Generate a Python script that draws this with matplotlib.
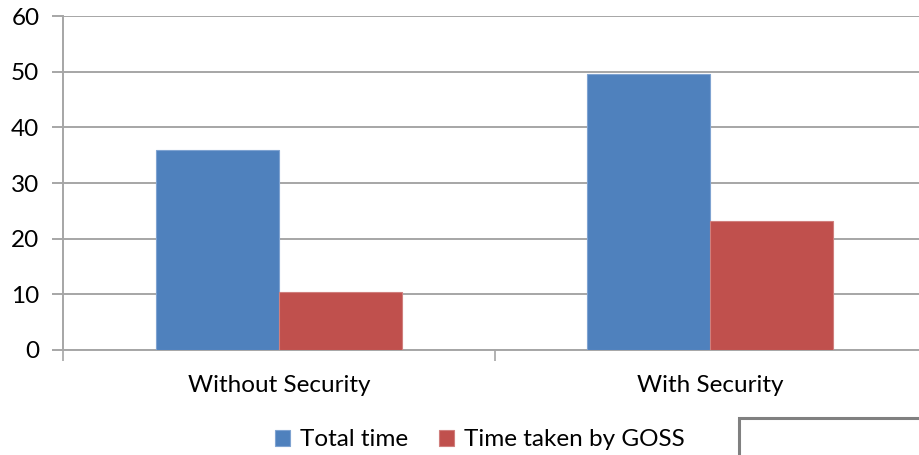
import numpy as np
import matplotlib
matplotlib.use("Agg")
import matplotlib.pyplot as plt
from matplotlib.patches import Rectangle

categories = ["Without Security", "With Security"]
total_time = [36.0, 49.5]
goss_time = [10.4, 23.2]
series_names = ["Total time", "Time taken by GOSS"]
y_ticks = [0, 10, 20, 30, 40, 50, 60]

plt.rcParams["font.family"] = ["Lato", "DejaVu Sans"]

fig = plt.figure(figsize=(9.19, 4.55), dpi=100)
ax = fig.add_axes([63 / 919, 105 / 455, 856 / 919, 334 / 455])

x = np.arange(len(categories))
w = 0.285
ax.bar(x - w / 2, total_time, w, color="#4f81bd", edgecolor="#7fa3d1", linewidth=0.8,
       label=series_names[0], zorder=3)
ax.bar(x + w / 2, goss_time, w, color="#c0504d", edgecolor="#d07f7d", linewidth=0.8,
       label=series_names[1], zorder=3)

ax.set_xlim(-0.5, 1.5 - 7 / 431.5)
ax.set_ylim(0, 60)
ax.set_yticks(y_ticks)
ax.yaxis.grid(True, color="#a6a6a6", linewidth=1.4, zorder=0)
ax.set_axisbelow(True)

ax.set_xticks(x)
ax.set_xticklabels(categories)
ax.set_xticks([-0.5, 0.5], minor=True)
ax.tick_params(axis="x", which="major", length=0, pad=18, labelsize=17.5, colors="#000000")
ax.tick_params(axis="x", which="minor", length=8, width=1.2, color="#a6a6a6", direction="out")
ax.tick_params(axis="y", length=8, width=1.4, color="#a6a6a6", pad=9, labelsize=17.5)

for side in ["top", "right"]:
    ax.spines[side].set_visible(False)
for side in ["left", "bottom"]:
    ax.spines[side].set_color("#a6a6a6")
    ax.spines[side].set_linewidth(1.4)

fig.legend(loc="center", bbox_to_anchor=(480 / 919, 1 - 440 / 455), ncol=2, frameon=False,
           fontsize=17.5, handlelength=0.6, handleheight=0.6, handletextpad=0.4,
           columnspacing=1.3)

# frame of a neighbouring object at the lower right
fig.patches.append(Rectangle((739 / 919, -0.2), 0.3, 0.2 + 37 / 455, transform=fig.transFigure,
                             fill=False, edgecolor="#808080", linewidth=2.2, clip_on=False))

fig.savefig("out.png", dpi=100)
